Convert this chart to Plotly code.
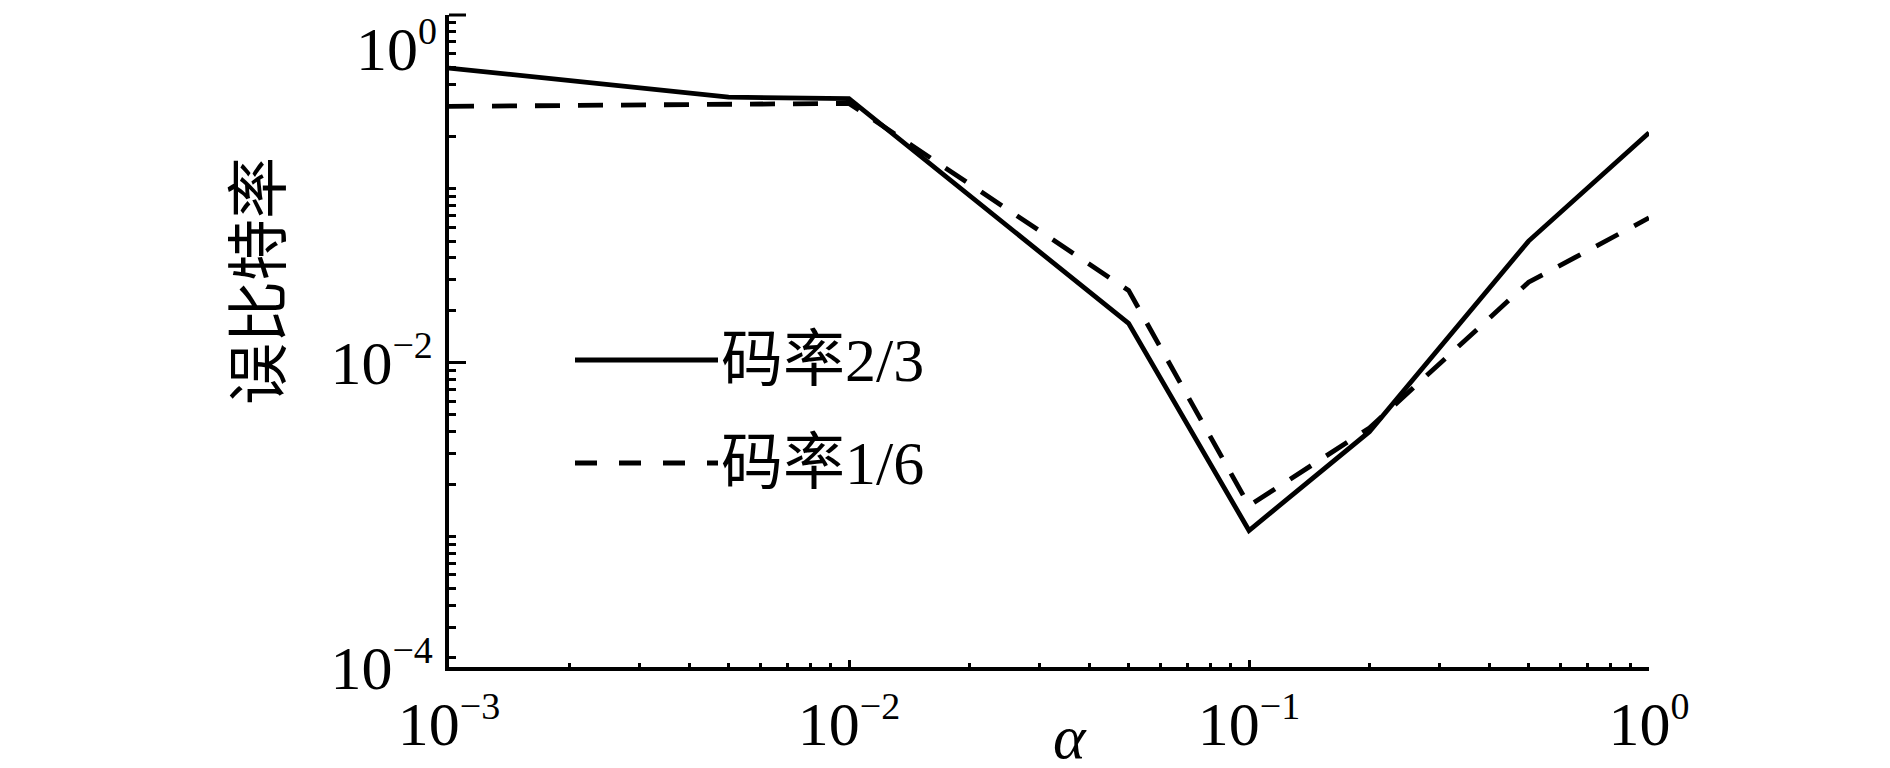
import math
import plotly.graph_objects as go

# ---- data ----
alpha_r23 = [0.001, 0.005, 0.01, 0.05, 0.1, 0.2, 0.5, 1.0]
ber_r23 = [0.495, 0.337, 0.33, 0.0168, 0.00108, 0.0040, 0.050, 0.21]
alpha_r16 = [0.001, 0.01, 0.05, 0.1, 0.2, 0.5, 1.0]
ber_r16 = [0.298, 0.31, 0.026, 0.0015, 0.0042, 0.029, 0.068]
series_names = ["码率2/3", "码率1/6"]

x_tickvals = [1e-3, 1e-2, 1e-1, 1.0]
x_exponents = ["−3", "−2", "−1", "0"]
y_top_exponent = "0"
y_exponents = ["−2", "−4"]
Y_LOG_MIN = -3.752  # bottom of the drawn axis (labelled 10^-4 in the source)

x_title = "α"
y_title = "误比特率"

# ---- styles ----
NUM_FONT = "Liberation Serif"
CJK_FONT = "Liberation Serif, Noto Sans CJK SC"
FS = 62
SUP_FS = 38
DASH = "25px,18px"


def pow_label(exp):
    return "10<sup><span style='font-size:%dpx'>%s</span></sup>" % (SUP_FS, exp)


def minor_vals(lo, hi):
    vals = []
    for e in range(lo, hi + 1):
        for m in range(1, 10):
            vals.append(m * 10 ** e)
    return vals


x_minor = [v for v in minor_vals(-3, -1) if 1e-3 < v < 1.0 and v not in x_tickvals]
y_minor = [v for v in minor_vals(-4, -1) if 10 ** Y_LOG_MIN < v < 1.0 and abs(math.log10(v) + 2) > 1e-9]
y_minor.append(1.0)

fig = go.Figure()
fig.add_trace(go.Scatter(x=alpha_r23, y=ber_r23, mode="lines", name=series_names[0],
                         line=dict(color="black", width=4.8)))
fig.add_trace(go.Scatter(x=alpha_r16, y=ber_r16, mode="lines", name=series_names[1],
                         line=dict(color="black", width=4.8, dash=DASH)))

fig.update_layout(
    width=1890, height=768,
    margin=dict(l=441, r=249, t=7, b=109, autoexpand=False),
    paper_bgcolor="white", plot_bgcolor="white",
    showlegend=False,
    font=dict(family=NUM_FONT, size=FS, color="black"),
)
fig.update_xaxes(
    type="log", range=[-3, 0], automargin=False,
    showgrid=False, zeroline=False,
    showline=True, linecolor="black", linewidth=3.5, mirror=False,
    ticks="inside", ticklen=7, tickwidth=3, tickcolor="black",
    tickmode="array", tickvals=x_tickvals, ticktext=[pow_label(e) for e in x_exponents],
    tickfont=dict(family=NUM_FONT, size=FS, color="black"),
    minor=dict(tickmode="array", tickvals=x_minor, ticks="inside", ticklen=4,
               tickwidth=3, tickcolor="black", showgrid=False),
)
fig.update_yaxes(
    type="log", range=[Y_LOG_MIN, 0], automargin=False,
    showgrid=False, zeroline=False,
    showline=True, linecolor="black", linewidth=3.5, mirror=False,
    ticks="inside", ticklen=17, tickwidth=3, tickcolor="black",
    tickmode="array", tickvals=[1e-2, 10 ** Y_LOG_MIN], ticktext=[pow_label(e) for e in y_exponents],
    tickfont=dict(family=NUM_FONT, size=FS, color="black"),
    minor=dict(tickmode="array", tickvals=y_minor, ticks="inside", ticklen=7,
               tickwidth=3, tickcolor="black", showgrid=False),
)

# long tick at 10^0 along the top of the y axis
fig.add_shape(type="line", xref="paper", yref="paper", x0=0, x1=17 / 1200, y0=1, y1=1,
              line=dict(color="black", width=3))

annotations = [
    dict(text=pow_label(y_top_exponent), xref="paper", yref="paper", x=0, y=1, xanchor="right",
         yanchor="top", xshift=-10, yshift=7, showarrow=False,
         font=dict(family=NUM_FONT, size=FS, color="black")),
    dict(text=y_title, xref="paper", yref="paper", x=(252 - 441) / 1200, y=(659 - 273) / 652,
         xanchor="center", yanchor="middle", textangle=-90, showarrow=False,
         font=dict(family=CJK_FONT, size=FS, color="black")),
    dict(text="<i>" + x_title + "</i>", xref="paper", yref="paper", x=(1062 - 441) / 1200, y=0,
         xanchor="center", yanchor="bottom", yshift=-106, showarrow=False,
         font=dict(family=NUM_FONT, size=FS, color="black")),
]

# manual legend
leg_rows = [(352, "solid"), (455, "22px,22px")]
for (ypx, dash), name in zip(leg_rows, series_names):
    yp = (659 - ypx) / 652
    fig.add_shape(type="line", xref="paper", yref="paper",
                  x0=(567 - 441) / 1200, x1=(710 - 441) / 1200, y0=yp, y1=yp,
                  line=dict(color="black", width=4.8, dash=dash))
    annotations.append(dict(text=name, xref="paper", yref="paper", x=(711 - 441) / 1200, y=yp,
                            xanchor="left", yanchor="middle", showarrow=False,
                            font=dict(family=CJK_FONT, size=FS, color="black")))

fig.update_layout(annotations=annotations)
fig.write_html("out.html")
